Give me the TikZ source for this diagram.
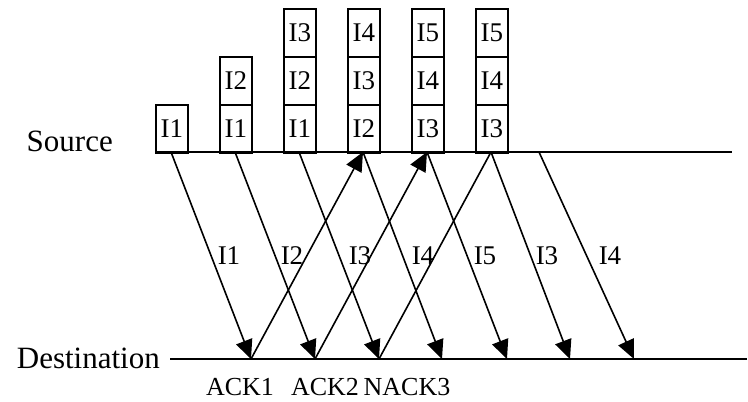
\documentclass[tikz,border=0pt]{standalone}
\usepackage{fontspec}
\setmainfont{Liberation Serif}
\usetikzlibrary{arrows.meta}
\begin{document}
\begin{tikzpicture}[x=1pt,y=-1pt,
  every node/.style={inner sep=0pt},
  pkt/.style={draw,line width=1.8pt,minimum width=32pt,minimum height=48pt,anchor=north west,font=\fontsize{27}{27}\selectfont},
  axis/.style={line width=1.9pt},
  msg/.style={line width=1.6pt},
  head/.style={-{Triangle[length=19pt,width=17pt]}},
  lab/.style={font=\fontsize{27}{27}\selectfont},
  acklab/.style={font=\fontsize{26}{26}\selectfont},
  big/.style={font=\fontsize{31}{31}\selectfont}]
\useasboundingbox (0,0) rectangle (748,402);
% axes
\coordinate (srcL) at (155,152);
\coordinate (srcR) at (732,152);
\coordinate (dstL) at (170,359);
\coordinate (dstR) at (747,359);
\draw[axis] (srcL) -- (srcR);
\draw[axis] (dstL) -- (dstR);
\node[big,anchor=base east] (srclab) at (113,151) {Source};
\node[big,anchor=base east] (dstlab) at (160,368) {Destination};
% buffers
\node[pkt] (b1a) at (155,104) {I1};
\node[pkt] (b2a) at (219,104) {I1};
\node[pkt] (b2b) at (219,56) {I2};
\node[pkt] (b3a) at (283,104) {I1};
\node[pkt] (b3b) at (283,56) {I2};
\node[pkt] (b3c) at (283,8) {I3};
\node[pkt] (b4a) at (347,104) {I2};
\node[pkt] (b4b) at (347,56) {I3};
\node[pkt] (b4c) at (347,8) {I4};
\node[pkt] (b5a) at (411,104) {I3};
\node[pkt] (b5b) at (411,56) {I4};
\node[pkt] (b5c) at (411,8) {I5};
\node[pkt] (b6a) at (475,104) {I3};
\node[pkt] (b6b) at (475,56) {I4};
\node[pkt] (b6c) at (475,8) {I5};
% source points
\coordinate (s1) at (171,152);
\coordinate (s2) at (235,152);
\coordinate (s3) at (299,152);
\coordinate (s4) at (363,152);
\coordinate (s5) at (427,152);
\coordinate (s6) at (491,152);
\coordinate (s7) at (539,152);
% destination points
\coordinate (d1) at (251,359);
\coordinate (d2) at (315,359);
\coordinate (d3) at (379,359);
\coordinate (d4) at (442,359);
\coordinate (d5) at (507,359);
\coordinate (d6) at (570,359);
\coordinate (d7) at (634,359);
% data messages
\draw[msg,head] (s1) -- (d1);
\draw[msg,head] (s2) -- (d2);
\draw[msg,head] (s3) -- (d3);
\draw[msg,head] (s4) -- (d4);
\draw[msg,head] (s5) -- (d5);
\draw[msg,head] (s6) -- (d6);
\draw[msg,head] (s7) -- (d7);
% acks
\draw[msg,head] (d1) -- (s4);
\draw[msg,head] (d2) -- (s5);
\draw[msg] (d3) -- (s6);
% message labels
\node[lab,anchor=base] (l1) at (229,264) {I1};
\node[lab,anchor=base] (l2) at (292,264) {I2};
\node[lab,anchor=base] (l3) at (360,264) {I3};
\node[lab,anchor=base] (l4) at (423,264) {I4};
\node[lab,anchor=base] (l5) at (485,264) {I5};
\node[lab,anchor=base] (l6) at (547,264) {I3};
\node[lab,anchor=base] (l7) at (610,264) {I4};
% ack labels
\node[acklab,anchor=base] (a1) at (240,395) {ACK1};
\node[acklab,anchor=base] (a2) at (325,395) {ACK2};
\node[acklab,anchor=base] (a3) at (407,395) {NACK3};
\end{tikzpicture}
\end{document}
